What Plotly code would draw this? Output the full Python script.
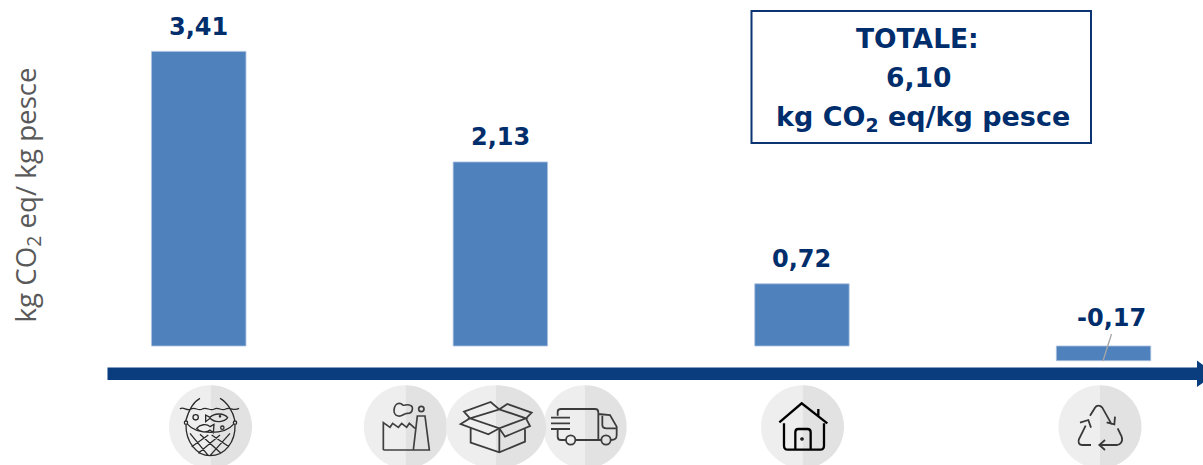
import re
import plotly.graph_objects as go

# Life-cycle stages and their carbon footprint
stages = ["Pesca", "Lavorazione e distribuzione", "Consumo", "Fine vita"]
values = [3.41, 2.13, 0.72, -0.17]
total_lines = ["TOTALE:", "6,10", "kg CO<sub>2</sub> eq/kg pesce"]
total_sizes = [26.5, 26.5, 27]
total_centres = [917, 918, 923]
total_rows = [38, 78, 118.5]
y_title = "kg CO<sub>2</sub> eq/ kg pesce"

WIDTH, HEIGHT = 1203, 465
NAVY = "#002d6b"
BAR = "#4f81bd"
ARROW = "#0a3d7e"
KAPPA = 0.5523


def px(x, y):
    return f"{x / WIDTH:.5f},{1 - y / HEIGHT:.5f}"


def traced(path, ox, oy):
    """Turn a path drawn on a 3x grid into paper coordinates offset by (ox, oy)."""
    out = []
    for cmd, body in re.findall(r"([MLCZ])([^MLCZ]*)", path):
        nums = [float(n) for n in body.replace(",", " ").split()]
        pts = [px(nums[i] / 3 + ox, nums[i + 1] / 3 + oy) for i in range(0, len(nums), 2)]
        out.append(cmd + " ".join(pts))
    return " ".join(out)


def ring(cx, cy, r):
    k = r * KAPPA
    return (
        f"M{cx - r} {cy} C{cx - r} {cy - k} {cx - k} {cy - r} {cx} {cy - r} "
        f"C{cx + k} {cy - r} {cx + r} {cy - k} {cx + r} {cy} "
        f"C{cx + r} {cy + k} {cx + k} {cy + r} {cx} {cy + r} "
        f"C{cx - k} {cy + r} {cx - r} {cy + k} {cx - r} {cy} Z "
    )


def path_shape(path, fill=None, line=None, width=0):
    return dict(
        type="path", xref="paper", yref="paper", path=path, layer="above",
        fillcolor=fill if fill else "rgba(0,0,0,0)",
        line=dict(color=line if line else "rgba(0,0,0,0)", width=width),
    )


def disc(cx, cy, rx, ry):
    """Two-tone badge behind an icon: lighter on the left, darker on the right."""
    kx, ky = rx * KAPPA, ry * KAPPA
    left = (
        f"M{px(cx, cy - ry)} C{px(cx - kx, cy - ry)} {px(cx - rx, cy - ky)} {px(cx - rx, cy)} "
        f"C{px(cx - rx, cy + ky)} {px(cx - kx, cy + ry)} {px(cx, cy + ry)} Z"
    )
    right = (
        f"M{px(cx, cy - ry)} C{px(cx + kx, cy - ry)} {px(cx + rx, cy - ky)} {px(cx + rx, cy)} "
        f"C{px(cx + rx, cy + ky)} {px(cx + kx, cy + ry)} {px(cx, cy + ry)} Z"
    )
    return [path_shape(left, fill="#eeeeee"), path_shape(right, fill="#e2e2e2")]


ICON_NET = (
    "M45 72 C55 62 65 80 78 72 C90 64 100 80 112 72 C125 64 135 80 148 72 C160 64 170 80 182 72 C195 64 205 80 222 70 "
    "M105 40 C85 50 70 80 62 108 M165 40 C185 50 205 80 210 108 "
    "M68 118 C95 150 180 150 205 118 "
    "M63 119 C62 170 95 212 135 212 C180 212 212 170 210 119 "
    "M75 145 L130 212 M105 148 L168 205 M140 150 L192 185 "
    "M195 145 L135 212 M165 150 L100 205 M130 150 L80 185 "
    "M122 90 L135 97 C150 82 178 85 188 98 C178 112 150 115 135 100 L122 110 Z "
    "M95 130 C105 118 125 115 135 125 L147 118 L145 143 L135 135 C125 145 105 142 95 130 Z "
    + ring(92, 97, 8) + ring(172, 128, 5) + ring(63, 113, 5) + ring(210, 113, 5) + ring(165, 94, 2)
)
ICON_FACTORY = (
    "M40 180 L40 98 L60 112 L68 100 L85 112 L95 100 L110 112 L118 100 L135 115 "
    "M40 180 L178 180 L165 78 L142 78 L130 180 "
    "M88 40 C70 40 65 75 85 78 C98 80 100 70 112 70 C130 70 132 48 118 45 C108 42 105 48 98 45 C95 41 92 40 88 40 Z "
    + ring(154, 57, 8)
)
ICON_BOX = (
    "M60 85 L148 58 L228 85 L148 115 Z "
    "M60 85 L42 65 L122 36 L148 58 L172 42 L245 68 L228 85 "
    "M60 85 L32 102 L115 133 L148 115 L165 140 L240 108 L228 85 "
    "M62 115 L62 158 L148 187 L225 155 L225 118 M148 115 L148 187"
)
ICON_TRUCK = (
    "M38 62 L38 50 C38 44 42 42 48 42 L150 42 C157 42 160 47 160 52 L160 135 "
    "M38 100 L38 125 C38 132 42 135 48 135 L62 135 M92 135 L168 135 "
    "M198 135 C212 135 215 130 215 120 L215 95 L195 60 L160 57 "
    "M172 62 L172 90 C172 98 178 100 185 100 L215 100 "
    "M18 68 L75 68 M18 85 L75 85 M18 102 L75 102 "
    + ring(77, 135, 14) + ring(183, 135, 14)
)
ICON_HOUSE = (
    "M28 82 L95 25 L172 85 M145 42 L145 62 "
    "M42 85 L42 152 C42 160 46 164 54 164 L150 164 C158 164 162 160 162 152 L162 85 "
    "M76 164 L76 112 C76 106 80 102 85 102 L112 102 C118 102 122 106 122 112 L122 164 "
    + ring(96, 132, 2)
)
ICON_RECYCLE = (
    "M75 62 L90 38 C95 30 105 30 112 38 L140 88 M150 65 L148 88 L125 82 "
    "M78 150 L52 150 C42 150 38 142 42 132 L62 92 M45 83 L70 75 L78 98 "
    "M158 100 L170 125 C175 140 165 150 155 150 L105 150 M120 135 L103 150 L120 165"
)

shapes = []

# Summary box
shapes.append(dict(type="rect", xref="paper", yref="paper", layer="above",
                   x0=751.5 / WIDTH, x1=1091 / WIDTH, y0=1 - 143 / HEIGHT, y1=1 - 11 / HEIGHT,
                   line=dict(color="#0b3470", width=2), fillcolor="rgba(0,0,0,0)"))

# Timeline arrow under the bars
shapes.append(path_shape(
    f"M{px(107.5, 367.5)} L{px(1197, 367.5)} L{px(1197, 360.5)} L{px(1215, 374)} "
    f"L{px(1197, 387)} L{px(1197, 380)} L{px(107.5, 380)} Z", fill=ARROW))

# Leader from the negative value to its bar
shapes.append(path_shape(f"M{px(1111.5, 334)} L{px(1103, 361)}", line="#a6a6a6", width=1.3))

# Badges, then the line icons on top of them
for cx, rx in [(405.5, 41.7), (585, 41.7), (496, 50), (210.5, 41.5), (802.5, 41.5), (1100, 41.5)]:
    shapes.extend(disc(cx, 426.8, rx, 41.5))

for path, ox, oy, colour, w in [
    (ICON_NET, 165, 385, "#2a2a2a", 1.3),
    (ICON_FACTORY, 370, 390, "#404040", 1.7),
    (ICON_BOX, 450, 390, "#3c3c3c", 1.8),
    (ICON_TRUCK, 545, 395, "#3c3c3c", 1.8),
    (ICON_HOUSE, 770, 395, "#000000", 2.3),
    (ICON_RECYCLE, 1065, 395, "#383838", 1.8),
]:
    shapes.append(path_shape(traced(path, ox, oy), line=colour, width=w))

annotations = []

# Value labels sit above each bar; the negative one sits above the zero line
for i, v in enumerate(values):
    label = f"{v:.2f}".replace(".", ",")
    annotations.append(dict(
        x=i + (0.025 if v < 0 else 0), y=max(v, 0), xref="x", yref="y", text=label,
        yshift=28 if v < 0 else 24.5, showarrow=False, yanchor="middle", xanchor="center",
        font=dict(family="DejaVu Sans", size=24, color=NAVY, weight="bold"),
    ))

# Text inside the summary box
for line, cx, y, size in zip(total_lines, total_centres, total_rows, total_sizes):
    annotations.append(dict(
        x=cx / WIDTH, y=1 - y / HEIGHT, xref="paper", yref="paper", text=line, showarrow=False,
        xanchor="center", yanchor="middle",
        font=dict(family="DejaVu Sans", size=size, color=NAVY, weight="bold"),
    ))

# Measurement unit along the left edge
annotations.append(dict(
    x=26.5 / WIDTH, y=1 - 195 / HEIGHT, xref="paper", yref="paper", text=y_title, showarrow=False,
    textangle=-90, xanchor="center", yanchor="middle",
    font=dict(family="Open Sans", size=27.7, color="#595959"),
))

fig = go.Figure(go.Bar(
    x=list(range(len(stages))), y=values, width=0.313, hovertext=stages, hoverinfo="text",
    marker=dict(color=BAR, line=dict(color="#a9c1e0", width=0.8)),
))

# Zero sits at y=346 with 86.4 px per unit; stages are 301.6 px apart
fig.update_layout(
    width=WIDTH, height=HEIGHT, margin=dict(l=0, r=0, t=0, b=0),
    paper_bgcolor="white", plot_bgcolor="white", showlegend=False,
    shapes=shapes, annotations=annotations,
    xaxis=dict(visible=False, range=[-198.75 / 301.6, (WIDTH - 198.75) / 301.6]),
    yaxis=dict(visible=False, range=[(346 - HEIGHT) / 86.4, 346 / 86.4]),
)

fig.write_html("out.html", config=dict(displayModeBar=False))
